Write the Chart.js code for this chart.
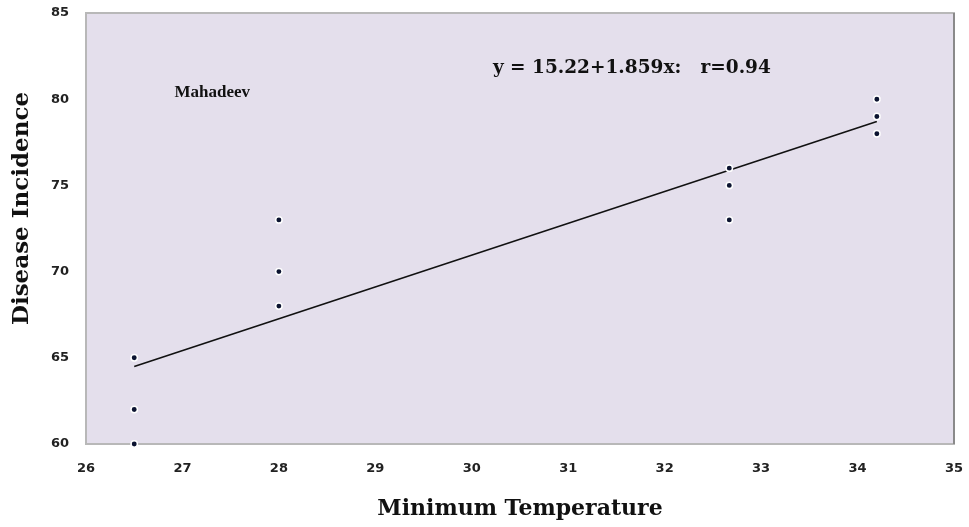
<!DOCTYPE html>
<html>
<head>
<meta charset="utf-8">
<script src="https://cdn.jsdelivr.net/npm/chart.js@4"></script>
<style>
  html, body { margin: 0; padding: 0; background: #fff; }
  #wrap { width: 969px; height: 527px; }
</style>
</head>
<body>
<div id="wrap"><canvas id="chart"></canvas></div>
<script>
// observed values
const minTemp = [26.5, 26.5, 26.5, 28, 28, 28, 32.67, 32.67, 32.67, 34.2, 34.2, 34.2];
const incidence = [65, 62, 60, 73, 70, 68, 76, 75, 73, 80, 79, 78];

// fitted line end points
const fitX = [26.5, 34.2];
const fitY = [64.5, 78.7];

const xTicks = [26, 27, 28, 29, 30, 31, 32, 33, 34, 35];
const yTicks = [60, 65, 70, 75, 80, 85];

const labels = [
  { text: 'Mahadeev', x: 27.31, y: 80.36, font: 'bold 17px "Liberation Serif"' },
  { text: 'y = 15.22+1.859x:   r=0.94', x: 31.66, y: 81.8, font: 'bold 18.5px "DejaVu Serif"' }
];

const plotBg = {
  id: 'plotBg',
  beforeDraw(c) {
    const { ctx, chartArea: a } = c;
    ctx.save();
    ctx.fillStyle = '#e4dfec';
    ctx.fillRect(a.left, a.top, a.width, a.height);
    ctx.strokeStyle = '#b8b8b8';
    ctx.lineWidth = 2;
    ctx.strokeRect(a.left, a.top, a.width, a.height);
    ctx.strokeStyle = '#8a8a8a';
    ctx.beginPath();
    ctx.moveTo(a.right, a.top);
    ctx.lineTo(a.right, a.bottom);
    ctx.stroke();
    ctx.restore();
  }
};

const textLabels = {
  id: 'textLabels',
  afterDatasetsDraw(c) {
    const { ctx, scales } = c;
    ctx.save();
    ctx.fillStyle = '#111';
    ctx.textAlign = 'center';
    ctx.textBaseline = 'middle';
    labels.forEach((l) => {
      ctx.font = l.font;
      ctx.fillText(l.text, scales.x.getPixelForValue(l.x), scales.y.getPixelForValue(l.y));
    });
    ctx.restore();
  }
};

const tickFont = { family: '"DejaVu Sans"', size: 13, weight: 'bold' };

new Chart(document.getElementById('chart'), {
  type: 'scatter',
  data: {
    datasets: [
      {
        label: 'Disease Incidence',
        data: minTemp.map((x, i) => ({ x, y: incidence[i] })),
        pointRadius: 3.2,
        pointBackgroundColor: '#0b1330',
        pointBorderColor: '#ffffff',
        pointBorderWidth: 1.5,
        order: 1
      },
      {
        label: 'Fit',
        type: 'line',
        data: fitX.map((x, i) => ({ x, y: fitY[i] })),
        borderColor: '#111',
        borderWidth: 1.6,
        pointRadius: 0,
        fill: false,
        order: 2
      }
    ]
  },
  options: {
    responsive: true,
    maintainAspectRatio: false,
    animation: false,
    clip: false,
    layout: { padding: { left: 0, right: 15, top: 13, bottom: 0 } },
    plugins: { legend: { display: false }, tooltip: { enabled: false } },
    scales: {
      x: {
        type: 'linear',
        min: 26, max: 35,
        afterBuildTicks: (s) => { s.ticks = xTicks.map((v) => ({ value: v })); },
        afterFit: (s) => { s.height = 83; s.paddingLeft = 0; s.paddingRight = 0; },
        grid: { display: false, drawTicks: false },
        border: { display: false },
        ticks: { color: '#222', font: tickFont, padding: 17 },
        title: {
          display: true,
          text: 'Minimum Temperature',
          color: '#111',
          font: { family: '"DejaVu Serif"', size: 22, weight: 'bold' },
          padding: { top: 6, bottom: 5 }
        }
      },
      y: {
        min: 60, max: 85,
        afterBuildTicks: (s) => { s.ticks = yTicks.map((v) => ({ value: v })); },
        afterFit: (s) => { s.width = 86; s.paddingTop = 0; s.paddingBottom = 0; },
        grid: { display: false, drawTicks: false },
        border: { display: false },
        ticks: { color: '#222', font: tickFont, padding: 17 },
        title: {
          display: true,
          text: '     Disease Incidence',
          color: '#111',
          font: { family: '"DejaVu Serif"', size: 23, weight: 'bold' },
          padding: { top: 8, bottom: 4 }
        }
      }
    }
  },
  plugins: [plotBg, textLabels]
});
</script>
</body>
</html>
